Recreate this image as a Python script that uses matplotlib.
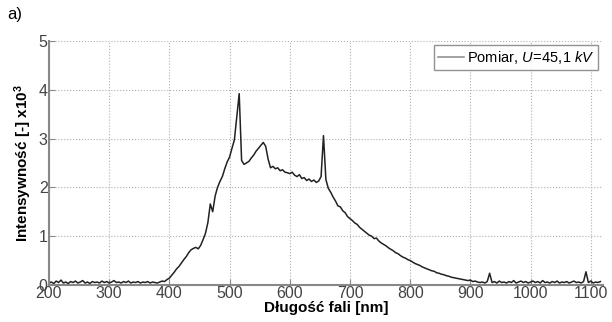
import numpy as np
import matplotlib.pyplot as plt

plt.rcParams['font.family'] = ['Liberation Sans', 'DejaVu Sans']
plt.rcParams['mathtext.fontset'] = 'custom'
plt.rcParams['mathtext.rm'] = 'Liberation Sans'
plt.rcParams['mathtext.it'] = 'Liberation Sans:italic'
plt.rcParams['mathtext.bf'] = 'Liberation Sans:bold'

wavelength = np.arange(200, 1117, 4)
intensity = [
    0.04, 0.06, 0.03, 0.08, 0.05, 0.10, 0.04, 0.06, 0.03, 0.07,
    0.05, 0.08, 0.04, 0.06, 0.09, 0.04, 0.06, 0.03, 0.07, 0.05,
    0.06, 0.04, 0.08, 0.05, 0.07, 0.04, 0.06, 0.09, 0.05, 0.06,
    0.04, 0.07, 0.05, 0.08, 0.04, 0.06, 0.05, 0.07, 0.04, 0.06,
    0.05, 0.07, 0.04, 0.06, 0.05, 0.04, 0.06, 0.08, 0.07, 0.11,
    0.14, 0.20, 0.26, 0.33, 0.38, 0.45, 0.52, 0.58, 0.66, 0.72,
    0.75, 0.77, 0.74, 0.81, 0.93, 1.06, 1.28, 1.66, 1.50, 1.82,
    2.00, 2.12, 2.22, 2.38, 2.52, 2.62, 2.80, 2.97, 3.45, 3.92,
    2.55, 2.47, 2.50, 2.53, 2.60, 2.66, 2.74, 2.80, 2.86, 2.92,
    2.84, 2.58, 2.40, 2.43, 2.38, 2.40, 2.34, 2.36, 2.31, 2.30,
    2.28, 2.31, 2.25, 2.22, 2.26, 2.18, 2.20, 2.14, 2.17, 2.12,
    2.15, 2.10, 2.13, 2.22, 3.06, 2.16, 1.98, 1.90, 1.80, 1.72,
    1.62, 1.60, 1.52, 1.48, 1.40, 1.36, 1.32, 1.27, 1.24, 1.18,
    1.14, 1.10, 1.06, 1.02, 1.00, 0.95, 0.96, 0.90, 0.86, 0.83,
    0.80, 0.76, 0.73, 0.70, 0.66, 0.64, 0.60, 0.57, 0.55, 0.52,
    0.50, 0.47, 0.44, 0.42, 0.40, 0.37, 0.35, 0.33, 0.31, 0.29,
    0.28, 0.25, 0.24, 0.22, 0.21, 0.19, 0.18, 0.16, 0.15, 0.14,
    0.13, 0.12, 0.11, 0.10, 0.09, 0.10, 0.07, 0.08, 0.06, 0.05,
    0.06, 0.04, 0.07, 0.24, 0.05, 0.07, 0.04, 0.08, 0.05, 0.06,
    0.04, 0.07, 0.05, 0.09, 0.04, 0.06, 0.08, 0.05, 0.07, 0.04,
    0.06, 0.08, 0.05, 0.07, 0.04, 0.09, 0.05, 0.06, 0.04, 0.07,
    0.05, 0.08, 0.04, 0.06, 0.05, 0.07, 0.04, 0.06, 0.08, 0.05,
    0.06, 0.04, 0.07, 0.27, 0.05, 0.08, 0.04, 0.06, 0.05, 0.07,
]
xticks = [200, 300, 400, 500, 600, 700, 800, 900, 1000, 1100]
yticks = [0, 1, 2, 3, 4, 5]

fig = plt.figure(figsize=(6.12, 3.22), dpi=100)
ax = fig.add_axes([0.080, 0.115, 0.905, 0.758])

ax.plot(wavelength, intensity, color='#222222', lw=1.1,
        label=r'Pomiar, $\mathit{U\!=\!45,\!1\ kV}$')

ax.set_xlim(200, 1120)
ax.set_ylim(0, 5)
ax.set_xticks(xticks)
ax.set_yticks(yticks)
ax.grid(True, ls=':', color='#b0b0b0', lw=0.8)

for s in ['top', 'right']:
    ax.spines[s].set_visible(False)
for s in ['left', 'bottom']:
    ax.spines[s].set_color('#888888')
    ax.spines[s].set_linewidth(1.5)

ax.tick_params(direction='in', length=4, color='#888888',
               labelsize=11.5, labelcolor='#444444', pad=1)

ax.set_xlabel('Długość fali [nm]', fontsize=11, fontweight='bold', labelpad=0)
ax.set_ylabel(r'Intensywność [-] x10$^\mathbf{3}$', fontsize=11,
              fontweight='bold', labelpad=3)

leg = ax.legend(loc='upper right', fontsize=10.5, frameon=True, fancybox=False,
                handlelength=1.8, borderpad=0.25, handletextpad=0.2,
                borderaxespad=0.3)
leg.get_frame().set_edgecolor('#777777')
leg.get_frame().set_linewidth(1.0)
leg.get_lines()[0].set_color('#888888')

fig.text(0.012, 0.955, 'a)', fontsize=12, va='center')

fig.savefig('out.png', dpi=100)
